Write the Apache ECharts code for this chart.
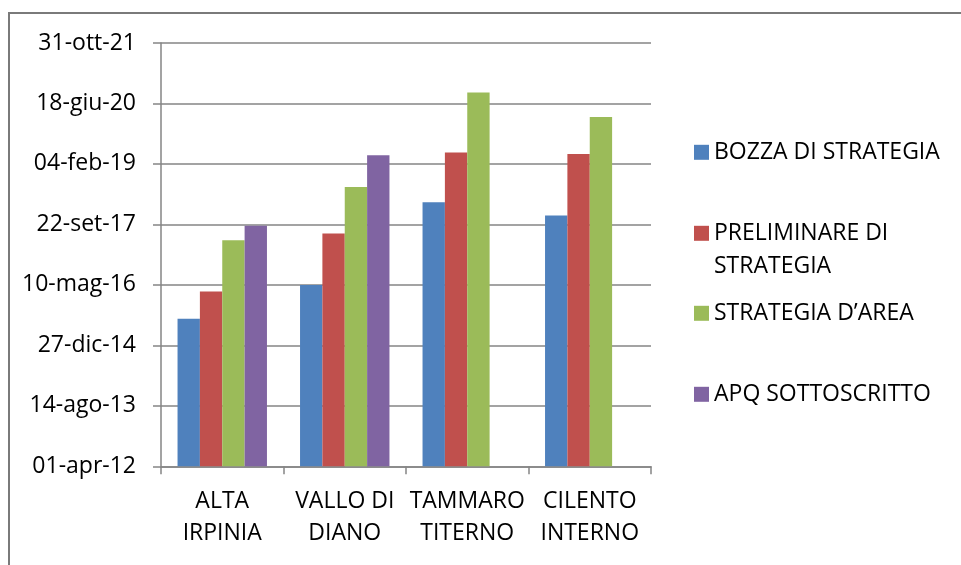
<!DOCTYPE html>
<html>
<head>
<meta charset="utf-8">
<script src="https://cdn.jsdelivr.net/npm/echarts@6/dist/echarts.min.js"></script>
<style>
  html, body { margin: 0; padding: 0; background: #ffffff; }
  #chart { width: 961px; height: 565px; }
</style>
</head>
<body>
<div id="chart"></div>
<script>
// Areas (categories) and the date each phase was reached, as spreadsheet day serials
const categories = ['ALTA\nIRPINIA', 'VALLO DI\nDIANO', 'TAMMARO\nTITERNO', 'CILENTO\nINTERNO'];
const seriesNames = ['BOZZA DI STRATEGIA', 'PRELIMINARE DI STRATEGIA', 'STRATEGIA D’AREA', 'APQ SOTTOSCRITTO'];
const bozza = [42220, 42500, 43184, 43074];
const preliminare = [42446, 42925, 43595, 43583];
const strategiaArea = [42870, 43310, 44090, 43889];
const apq = [42988, 43572, null, null];

// Date axis range in day serials (01-apr-12 .. 31-oct-21, every 500 days)
const axisMin = 41000;
const axisMax = 44500;
const axisStep = 500;

const colors = ['#4F81BD', '#C0504D', '#9BBB59', '#8064A2'];
const mesi = ['gen', 'feb', 'mar', 'apr', 'mag', 'giu', 'lug', 'ago', 'set', 'ott', 'nov', 'dic'];
const FONT = '"Open Sans", sans-serif';
const FONT_SIZE = 23;

function serialToLabel(v) {
  const d = new Date(Date.UTC(1899, 11, 30) + Math.round(v) * 86400000);
  const dd = String(d.getUTCDate()).padStart(2, '0');
  const yy = String(d.getUTCFullYear() % 100).padStart(2, '0');
  return dd + '-' + mesi[d.getUTCMonth()] + '-' + yy;
}

const seriesData = [bozza, preliminare, strategiaArea, apq];
const legendTops = [135.8, 183.8, 296.8, 377.8];

const chart = echarts.init(document.getElementById('chart'), null, { renderer: 'canvas' });

const legendText = {
  color: '#000',
  fontFamily: FONT,
  fontSize: FONT_SIZE,
  lineHeight: 33
};

chart.setOption({
  animation: false,
  backgroundColor: '#ffffff',
  color: colors,
  graphic: [{
    type: 'rect',
    shape: { x: 9, y: 13, width: 1000, height: 600 },
    style: { fill: 'none', stroke: '#7a7a7a', lineWidth: 2 },
    silent: true
  }],
  grid: { left: 161, right: 310, top: 43, bottom: 98.7, containLabel: false },
  legend: seriesNames.map((name, i) => ({
    data: [name],
    orient: 'vertical',
    left: 694,
    top: legendTops[i],
    padding: 0,
    itemWidth: 15,
    itemHeight: 15,
    icon: 'rect',
    selectedMode: false,
    textStyle: legendText,
    formatter: i === 1 ? () => '\nPRELIMINARE DI\nSTRATEGIA' : undefined
  })),
  xAxis: {
    type: 'category',
    data: categories,
    axisLine: { lineStyle: { color: '#858585', width: 1.5 } },
    axisTick: { show: true, length: 8, lineStyle: { color: '#858585', width: 1.5 } },
    axisLabel: {
      color: '#000',
      fontFamily: FONT,
      fontSize: FONT_SIZE,
      lineHeight: 32,
      margin: 19,
      interval: 0
    }
  },
  yAxis: {
    type: 'value',
    min: axisMin,
    max: axisMax,
    interval: axisStep,
    axisLine: { show: true, lineStyle: { color: '#858585', width: 1.5 } },
    axisTick: { show: true, length: 8, lineStyle: { color: '#858585', width: 1.5 } },
    splitLine: { show: true, lineStyle: { color: '#858585', width: 1.5 } },
    axisLabel: {
      color: '#000',
      fontFamily: FONT,
      fontSize: FONT_SIZE,
      margin: 25,
      formatter: serialToLabel
    }
  },
  series: seriesNames.map((name, i) => ({
    name: name,
    type: 'bar',
    data: seriesData[i],
    barGap: '0%',
    barCategoryGap: '27%',
    itemStyle: { color: colors[i] }
  }))
});
</script>
</body>
</html>
